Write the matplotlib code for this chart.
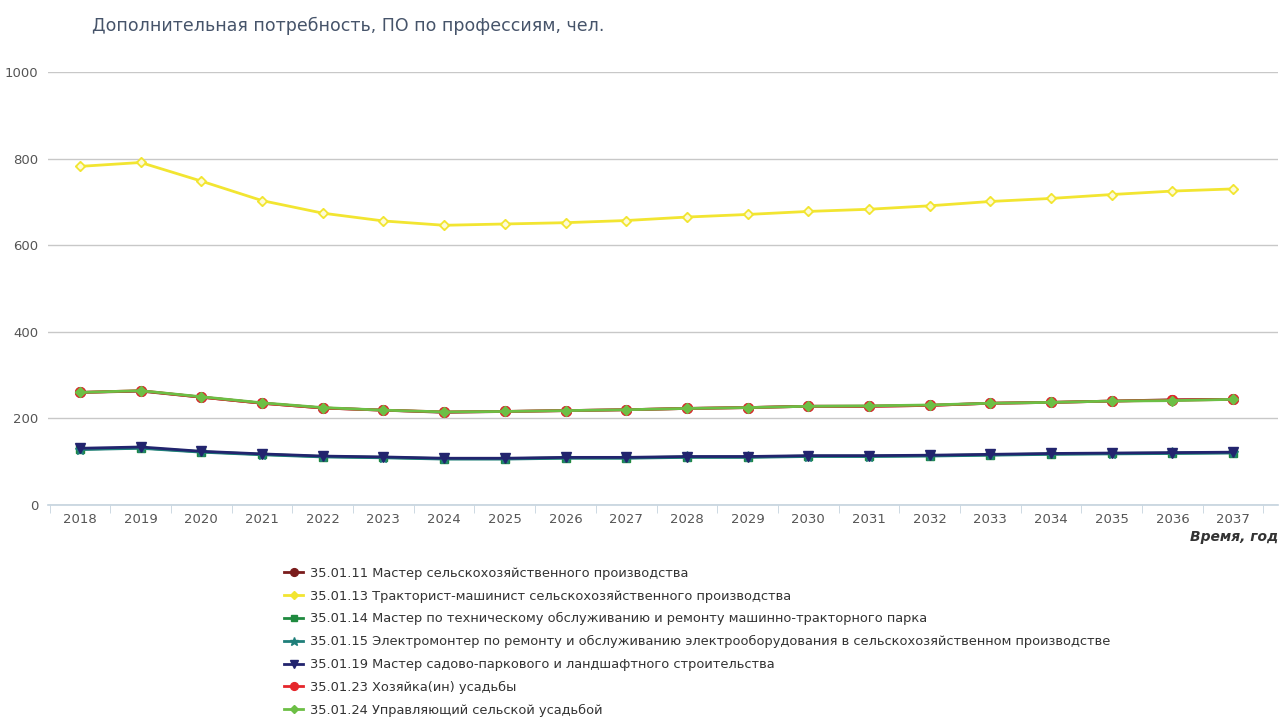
import matplotlib.pyplot as plt
import numpy as np

# --- Data ---
years = [str(y) for y in range(2018, 2038)]

labels = [
    "35.01.11 Мастер сельскохозяйственного производства",
    "35.01.13 Тракторист-машинист сельскохозяйственного производства",
    "35.01.14 Мастер по техническому обслуживанию и ремонту машинно-тракторного парка",
    "35.01.15 Электромонтер по ремонту и обслуживанию электрооборудования в сельскохозяйственном производстве",
    "35.01.19 Мастер садово-паркового и ландшафтного строительства",
    "35.01.23 Хозяйка(ин) усадьбы",
    "35.01.24 Управляющий сельской усадьбой",
]

master_11 = [260, 263, 249, 235, 224, 219, 214, 216, 218, 220, 223, 225, 228, 228, 230, 235, 237, 240, 243, 244]
tractor_13 = [782, 791, 748, 703, 674, 656, 646, 649, 652, 657, 665, 671, 678, 683, 691, 701, 708, 717, 725, 730]
repair_14 = [129, 132, 123, 117, 112, 110, 107, 107, 109, 109, 111, 111, 113, 113, 114, 116, 118, 119, 120, 121]
electro_15 = [128, 131, 122, 116, 111, 109, 106, 106, 108, 108, 110, 110, 112, 112, 113, 115, 117, 118, 119, 120]
garden_19 = [131, 134, 124, 118, 113, 111, 108, 108, 110, 110, 112, 112, 114, 114, 115, 117, 119, 120, 121, 122]
house_23 = [260, 264, 249, 235, 224, 219, 215, 216, 218, 220, 223, 225, 228, 228, 230, 235, 237, 240, 242, 244]
manager_24 = [260, 264, 250, 236, 225, 219, 215, 216, 218, 220, 223, 225, 228, 229, 231, 235, 237, 240, 241, 244]

series = [master_11, tractor_13, repair_14, electro_15, garden_19, house_23, manager_24]
colors = ["#7a1c1c", "#f2e531", "#1f8a3f", "#1f7f7a", "#22246e", "#e5262b", "#6cbf45"]
markers = ["o", "D", "s", "*", "v", "o", "D"]
msizes = [7, 5.5, 6, 8, 6.5, 7, 5.5]

plt.rcParams["font.family"] = ["DejaVu Sans"]

fig = plt.figure(figsize=(12.8, 7.18), dpi=100)
ax = fig.add_axes([48 / 1280, 1 - 505 / 718, 1230 / 1280, 433 / 718])

x = np.arange(len(years))
for vals, lab, col, mk, ms in zip(series, labels, colors, markers, msizes):
    ax.plot(x, vals, color=col, lw=2, marker=mk, markersize=ms,
            markerfacecolor=col, markeredgecolor=col, label=lab)
# yellow diamonds have a pale centre
ax.plot(x, tractor_13, ls="none", marker="D", markersize=2.5,
        color="#fdfbd8")

ax.set_ylim(0, 1000)
ax.set_xlim(-0.527, 19.74)
ax.set_yticks([0, 200, 400, 600, 800, 1000])
ax.set_xticks(x)
ax.set_xticklabels(years)
ax.set_xticks(np.arange(-0.5, 20, 1), minor=True)
ax.tick_params(axis="x", which="major", length=0, labelsize=9.5,
               colors="#555555", pad=6)
ax.tick_params(axis="x", which="minor", length=6, color="#c5d3de")
ax.tick_params(axis="y", length=0, labelsize=9.5, colors="#555555", pad=7)

ax.grid(axis="y", color="#c8c8c8", lw=1)
ax.set_axisbelow(True)
for side in ["top", "right", "left"]:
    ax.spines[side].set_visible(False)
ax.spines["bottom"].set_color("#c5d3de")
ax.spines["bottom"].set_linewidth(1.2)

fig.text(92 / 1280, 1 - 26 / 718, "Дополнительная потребность, ПО по профессиям, чел.",
         fontsize=12.5, color="#46546a", va="center")
fig.text(1278 / 1280, 1 - 537 / 718, "Время, год", fontsize=10,
         fontweight="bold", fontstyle="italic", color="#333333",
         ha="right", va="center")

fig.legend(loc="upper left", bbox_to_anchor=(272 / 1280, 1 - 555 / 718),
           frameon=False, fontsize=9.4, labelcolor="#333333",
           handlelength=1.5, handletextpad=0.5, labelspacing=0.75,
           markerscale=0.8)

plt.savefig("out.png", dpi=100)
